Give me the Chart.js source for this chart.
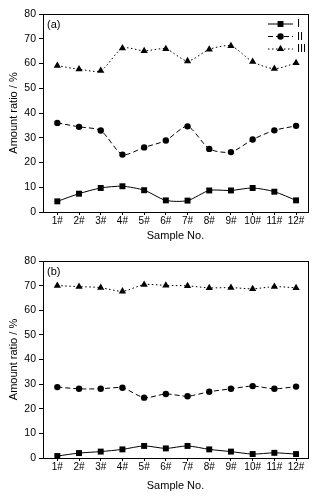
<!DOCTYPE html>
<html>
<head>
<meta charset="utf-8">
<script src="https://cdn.jsdelivr.net/npm/chart.js@4/dist/chart.umd.min.js"></script>
<style>
  body { margin: 0; background: #fff; }
  .box { position: absolute; left: 0; width: 326px; height: 250px; }
</style>
</head>
<body>
<div class="box" style="top:0"><canvas id="chartA" width="326" height="250"></canvas></div>
<div class="box" style="top:250px"><canvas id="chartB" width="326" height="250"></canvas></div>
<script>
// sample labels
const samples = ["1#", "2#", "3#", "4#", "5#", "6#", "7#", "8#", "9#", "10#", "11#", "12#"];
const yTicks = [0, 10, 20, 30, 40, 50, 60, 70, 80];
const seriesNames = ["I", "II", "III"];

// panel (a)
const a_I   = [4.3, 7.4, 9.7, 10.4, 8.8, 4.7, 4.6, 8.7, 8.7, 9.7, 8.2, 4.7];
const a_II  = [36.0, 34.4, 32.9, 23.2, 26.1, 28.9, 34.6, 25.5, 24.2, 29.3, 33.0, 34.8];
const a_III = [59.1, 57.7, 57.1, 66.2, 65.1, 65.9, 61.0, 65.7, 67.1, 60.7, 57.9, 60.2];

// panel (b)
const b_I   = [0.8, 2.0, 2.6, 3.5, 4.9, 3.9, 4.9, 3.5, 2.6, 1.6, 2.1, 1.6];
const b_II  = [28.8, 28.1, 28.1, 28.5, 24.5, 26.0, 25.1, 26.9, 28.1, 29.2, 28.1, 29.0];
const b_III = [70.0, 69.6, 69.2, 67.7, 70.4, 70.1, 69.9, 69.1, 69.2, 68.7, 69.6, 69.1];

const FONT = "'Liberation Sans', Arial, sans-serif";
const styles = [
  { dash: [], point: 'rect', radius: 4.2 },
  { dash: [5, 3], point: 'circle', radius: 3.2 },
  { dash: [1.5, 2.5], point: 'triangle', radius: 4.2 }
];

function makeSets(lists) {
  return lists.map((vals, i) => ({
    label: seriesNames[i],
    data: vals.map((v, j) => ({ x: j + 1, y: v })),
    borderColor: '#000',
    backgroundColor: '#000',
    borderWidth: 1,
    borderDash: styles[i].dash,
    pointStyle: styles[i].point,
    pointRadius: styles[i].radius,
    pointBorderWidth: 0,
    tension: 0.25,
    fill: false
  }));
}

// frame, panel letter and legend
const extras = {
  id: 'extras',
  afterDraw(chart, args, opts) {
    const ctx = chart.ctx, area = chart.chartArea;
    ctx.save();
    ctx.strokeStyle = '#000';
    ctx.lineWidth = 1;
    ctx.strokeRect(Math.round(area.left) + 0.5, Math.round(area.top) + 0.5,
                   Math.round(area.right - area.left), Math.round(area.bottom - area.top));
    ctx.fillStyle = '#000';
    ctx.font = '11px ' + FONT;
    ctx.textBaseline = 'middle';
    ctx.textAlign = 'left';
    ctx.fillText(opts.panel, area.left + 4, area.top + 11);
    if (opts.legend) {
      chart.data.datasets.forEach((ds, i) => {
        const y = area.top + 10 + i * 12.5;
        ctx.beginPath();
        ctx.setLineDash(ds.borderDash);
        ctx.moveTo(area.right - 40, y);
        ctx.lineTo(area.right - 15, y);
        ctx.stroke();
        ctx.setLineDash([]);
        Chart.helpers.drawPoint(ctx, { pointStyle: ds.pointStyle, radius: ds.pointRadius, borderWidth: 0 }, area.right - 27.5, y);
        ctx.fillText(ds.label, area.right - 11, y);
      });
    }
    ctx.restore();
  }
};

function makeChart(id, lists, panel, legend, padTop, xHeight) {
  return new Chart(document.getElementById(id), {
    type: 'line',
    data: { datasets: makeSets(lists) },
    plugins: [extras],
    options: {
      responsive: false,
      animation: false,
      layout: { padding: { top: padTop, right: 18, left: 0, bottom: 0 } },
      plugins: {
        legend: { display: false },
        tooltip: { enabled: false },
        extras: { panel: panel, legend: legend }
      },
      scales: {
        x: {
          type: 'linear',
          min: 0.34,
          max: 12.55,
          afterBuildTicks: s => { s.ticks = samples.map((l, i) => ({ value: i + 1 })); },
          afterFit: s => { s.height = xHeight; },
          grid: { drawOnChartArea: false, tickLength: 3, color: '#000' },
          border: { color: '#000' },
          ticks: {
            color: '#000', padding: 0, maxRotation: 0, autoSkip: false,
            font: { family: FONT, size: 10 },
            callback: v => samples[v - 1]
          },
          title: { display: true, text: 'Sample No.', color: '#000', padding: { top: 0, bottom: 7 }, font: { family: FONT, size: 11 } }
        },
        y: {
          min: 0,
          max: 80,
          afterBuildTicks: s => { s.ticks = yTicks.map(v => ({ value: v })); },
          afterFit: s => { s.width = 43; },
          grid: { drawOnChartArea: false, tickLength: 4, color: '#000' },
          border: { color: '#000' },
          ticks: { color: '#000', padding: 3, font: { family: FONT, size: 10.5 } },
          title: { display: true, text: 'Amount ratio / %', color: '#000', padding: { top: 7, bottom: 0 }, font: { family: FONT, size: 11 } }
        }
      }
    }
  });
}

makeChart('chartA', [a_I, a_II, a_III], '(a)', true, 14, 38);
makeChart('chartB', [b_I, b_II, b_III], '(b)', false, 11, 42);
</script>
</body>
</html>
